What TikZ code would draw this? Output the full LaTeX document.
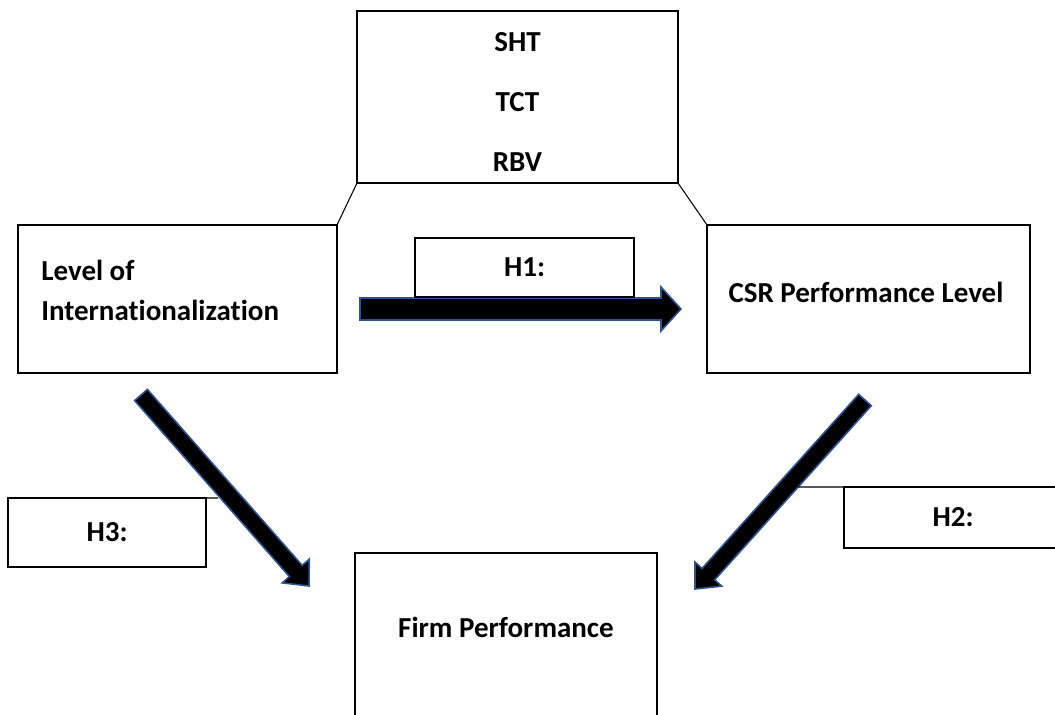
\documentclass[tikz,border=0pt]{standalone}
\usepackage{fontspec}
\setmainfont[Ligatures=NoCommon]{Carlito}
\usetikzlibrary{calc}
\definecolor{office blue}{HTML}{2F528F}
\colorlet{box edge}{black}
\colorlet{arrow edge}{office blue}
\tikzset{
  box/.style={draw=box edge, line width=1.1pt, fill=white, inner sep=0pt, outer sep=0pt},
  txt/.style={font=\bfseries\fontsize{16.5}{22.7}\selectfont, inner sep=0pt},
  thinline/.style={draw=black, line width=0.6pt},
  BigArrow/.style={fill=black, draw=arrow edge, line width=0.9pt, line join=miter}
}
% #1 shaft half width, #2 head half width, #3 tail, #4 tip
\newcommand{\blockarrow}[4]{%
  \coordinate (hb) at ($(#4)!0.4cm!(#3)$);
  \filldraw[BigArrow] ($(#3)!#1!90:(#4)$) -- ($(hb)!#1!90:(#4)$) -- ($(hb)!#2!90:(#4)$)
    -- (#4) -- ($(hb)!#2!-90:(#4)$) -- ($(hb)!#1!-90:(#4)$) -- ($(#3)!#1!-90:(#4)$) -- cycle;
}

\begin{document}
\begin{tikzpicture}[x=0.02cm, y=-0.02cm]
    \useasboundingbox (0,0) rectangle (1055,714);
    \clip (0,0) rectangle (1055,714);
    % arrow ends
    \coordinate (h1tail) at (360,309);
    \coordinate (h1tip) at (681,309);
    \coordinate (h3tail) at (141,395);
    \coordinate (h3tip) at (309,586);
    \coordinate (h2tail) at (865,400);
    \coordinate (h2tip) at (695,589);
    \blockarrow{0.22cm}{0.44cm}{h1tail}{h1tip}
    \blockarrow{0.17cm}{0.36cm}{h3tail}{h3tip}
    \blockarrow{0.17cm}{0.36cm}{h2tail}{h2tip}
    % boxes
    \node[box, minimum width=6.42cm, minimum height=3.44cm] (theory) at (517.5,97) {};
    \node[txt] (sht) at (517.5,42) {SHT};
    \node[txt] (tct) at (517.5,102) {TCT};
    \node[txt] (rbv) at (517.5,162) {RBV};
    \node[box, minimum width=6.38cm, minimum height=2.96cm] (intl) at (177.5,299) {};
    \node[txt, anchor=west, align=left] (intltext) at (41,290) {Level of\\Internationalization};
    \node[box, minimum width=6.46cm, minimum height=2.96cm] (csr) at (868.5,299) {};
    \node[txt] (csrtext) at (866,292) {CSR Performance Level};
    \node[box, minimum width=6.04cm, minimum height=3.74cm] (firm) at (506,646.5) {};
    \node[txt] (firmtext) at (506,627) {Firm Performance};
    \node[box, txt, minimum width=4.38cm, minimum height=1.18cm] (hone) at (524.5,267.5) {H1:};
    \node[box, txt, minimum width=3.96cm, minimum height=1.38cm] (hthree) at (107,532.5) {H3:};
    \node[box, txt, minimum width=4.36cm, minimum height=1.22cm] (htwo) at (953,517.5) {H2:};
    % thin links
    \coordinate (h3stub) at (218,498);
    \coordinate (h2stub) at (798,487);
    \draw[thinline] (theory.south west) -- (intl.north east);
    \draw[thinline] (theory.south east) -- (csr.north west);
    \draw[thinline] (hthree.north east) -- (h3stub);
    \draw[thinline] (h2stub) -- (htwo.north west);
\end{tikzpicture}
\end{document}
